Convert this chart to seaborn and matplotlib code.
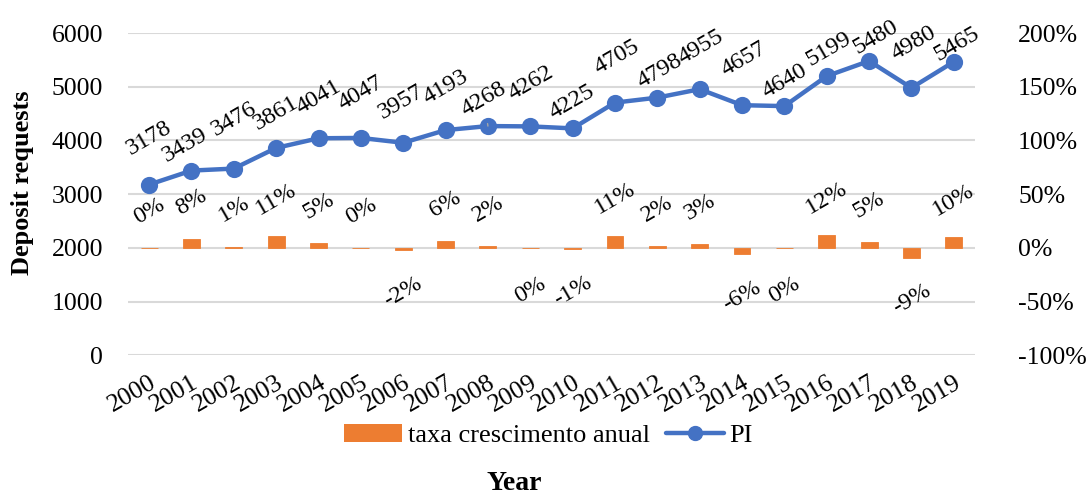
import matplotlib
matplotlib.use("Agg")
import matplotlib.pyplot as plt
from matplotlib.patches import Patch
from matplotlib.lines import Line2D
import pandas as pd
import seaborn as sns

years = ["2000", "2001", "2002", "2003", "2004", "2005", "2006", "2007", "2008", "2009",
         "2010", "2011", "2012", "2013", "2014", "2015", "2016", "2017", "2018", "2019"]
pi_requests = [3178, 3439, 3476, 3861, 4041, 4047, 3957, 4193, 4268, 4262,
               4225, 4705, 4798, 4955, 4657, 4640, 5199, 5480, 4980, 5465]
growth_rate = [0.000, 0.082, 0.011, 0.111, 0.047, 0.001, -0.022, 0.060, 0.018, -0.001,
               -0.009, 0.114, 0.020, 0.033, -0.060, -0.004, 0.120, 0.054, -0.091, 0.097]

left_ticks = [0, 1000, 2000, 3000, 4000, 5000, 6000]
right_ticks = [-1.0, -0.5, 0.0, 0.5, 1.0, 1.5, 2.0]

# label placement above each PI point (pixels): staggered to avoid collisions
label_dx = [0, -6, 0, 0, 0, 0, -2, 0, -4, 1, -1, 2, 2, 1, 2, 0, 2, 7, 2, 3]
label_dy = [46, 25, 50, 35, 41, 45, 41, 43, 27, 43, 26, 46, 27, 42, 46, 25, 27, 24, 45, 18]

df = pd.DataFrame({"year": years, "PI": pi_requests, "growth": growth_rate})

sns.set_theme(style="white")
plt.rcParams["font.family"] = ["Liberation Serif", "DejaVu Serif"]
plt.rcParams["text.color"] = "black"
plt.rcParams["xtick.color"] = "black"
plt.rcParams["ytick.color"] = "black"

blue = "#4472C4"
orange = "#ED7D31"
grid_c = "#D9D9D9"
fs = 18.5
lab_fs = 17.5

fig = plt.figure(figsize=(10.88, 4.94), dpi=100)
ax1 = fig.add_axes([0.1176, 0.281, 0.7785, 0.652])
ax2 = ax1.twinx()

# growth bars on the secondary (percentage) axis
sns.barplot(data=df, x="year", y="growth", color=orange, width=0.4,
            saturation=1, linewidth=0.6, edgecolor=orange, ax=ax2, zorder=2)

# PI line with markers on the primary axis
sns.pointplot(data=df, x="year", y="PI", color=blue, markers="o",
              markersize=10, linewidth=3.2, ax=ax1, zorder=3)

n = len(years)
for ax in (ax1, ax2):
    ax.set_xlim(-0.5, n - 0.5)
    for s in ax.spines.values():
        s.set_visible(False)
    ax.tick_params(length=0, labelsize=fs, colors="black")
    ax.grid(False)
    ax.set_xlabel("")
    ax.set_ylabel("")

ax1.set_ylim(0, 6000)
ax1.set_yticks(left_ticks)
ax1.set_yticklabels([str(t) for t in left_ticks])
ax2.set_ylim(-1.0, 2.0)
ax2.set_yticks(right_ticks)
ax2.set_yticklabels([f"{round(t * 100)}%" for t in right_ticks])
for t in left_ticks:
    ax1.axhline(t, color=grid_c, lw=1.5, zorder=0)

ax1.set_xticks(range(n))
ax1.set_xticklabels(years, rotation=30, ha="right", va="top",
                    rotation_mode="anchor", fontsize=fs)
ax1.tick_params(axis="x", pad=12)
ax1.tick_params(axis="y", pad=18)
ax2.tick_params(axis="y", pad=31)

# value labels on the line
for i, v in enumerate(pi_requests):
    kw = {}
    if i == 8:
        kw["arrowprops"] = dict(arrowstyle="-", color="#A6A6A6", lw=1,
                                shrinkA=9, shrinkB=3)
    ax1.annotate(str(v), (i, v), xytext=(label_dx[i], label_dy[i]),
                 textcoords="offset pixels", ha="center", va="center",
                 rotation=30, fontsize=lab_fs, color="black", zorder=5, **kw)

# percentage labels on the bars
for i, g in enumerate(growth_rate):
    off = 37 if g >= 0 else -42
    ax2.annotate(f"{round(g * 100)}%", (i, g), xytext=(0, off),
                 textcoords="offset pixels", ha="center", va="center",
                 rotation=30, fontsize=lab_fs, color="black", zorder=5)

handles = [Patch(facecolor=orange, edgecolor="none"),
           Line2D([], [], color=blue, lw=3.2, marker="o", markersize=10)]
fig.legend(handles, ["taxa crescimento anual", "PI"], loc="center",
           bbox_to_anchor=(0.504, 0.118), ncol=2, frameon=False, fontsize=19,
           handlelength=2.2, handletextpad=0.2, columnspacing=0.6)

fig.text(0.473, 0.022, "Year", ha="center", va="center", fontsize=20,
         fontweight="bold")
fig.text(0.021, 0.63, "Deposit requests", ha="center", va="center",
         rotation=90, fontsize=19, fontweight="bold")

fig.savefig("out.png", dpi=100, facecolor="white")
